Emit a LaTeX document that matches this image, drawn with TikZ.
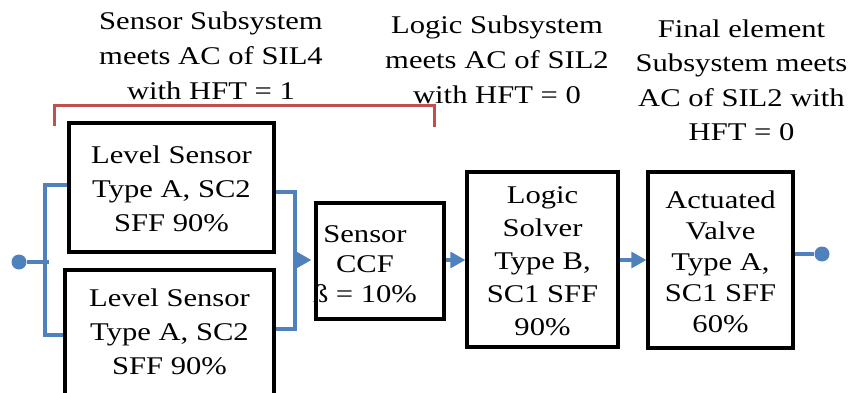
\documentclass[tikz,border=0pt]{standalone}
\usepackage{fontspec}
\setmainfont{Liberation Serif}[FakeStretch=1.2]
\usetikzlibrary{arrows.meta,calc}
\definecolor{wireblue}{HTML}{4F81BD}
\definecolor{bracketred}{HTML}{C0504D}
% taller first line, so that a block's text sits a little low in its box
\newcommand\firstrow{\rule{0pt}{30pt}}

\begin{document}
\begin{tikzpicture}[x=1pt,y=-1pt,
  every node/.style={inner sep=0pt, align=center},
  txt/.style={font=\fontsize{25.5}{#1}\selectfont},
  unitbox/.style={draw=black, line width=3.4pt, fill=white},
  wire/.style={draw=wireblue, line width=3.2pt, line join=miter},
  flow/.style={wire, -{Triangle[length=15pt,width=16pt]}},
  terminal/.style={circle, fill=wireblue, minimum size=15pt},
  groupline/.style={draw=bracketred, line width=3pt}]
\clip (0,0) rectangle (852,393);

% subsystem captions
\node[txt=35] (capsensor) at (211,58)
  {\strut Sensor Subsystem\\\strut meets AC of SIL4\\\strut with HFT = 1};
\node[txt=35] (caplogic) at (497,62)
  {\strut Logic Subsystem\\\strut meets AC of SIL2\\\strut with HFT = 0};
\node[txt=34.5] (capfinal) at (741.5,82)
  {\strut Final element\\\strut Subsystem meets\\\strut AC of SIL2 with\\\strut HFT = 0};

% bracket over the redundant sensor pair
\coordinate (brL) at (54,126);
\coordinate (brTop) at (434,106);
\coordinate (brR) at (434,127);
\draw[groupline] (brL) |- (brTop) -- (brR);

% blocks
\node[unitbox, txt=34, minimum width=205pt, minimum height=129pt] (ls1) at (171.5,187.5)
  {\firstrow Level Sensor\\\strut Type A, SC2\\\strut SFF 90\%};
\node[unitbox, txt=34, minimum width=209pt, minimum height=128pt] (ls2) at (169.5,334)
  {\strut Level Sensor\\\strut Type A, SC2\\\strut SFF 90\%};
\node[unitbox, minimum width=128pt, minimum height=116pt] (ccf) at (380,261) {};
\node[txt=30] (ccftext) at (365,266)
  {\strut Sensor\\\strut CCF\\\strut ß = 10\%};
\node[unitbox, txt=33, minimum width=151pt, minimum height=175pt] (logic) at (542.5,259.5)
  {\firstrow Logic\\\strut Solver\\\strut Type B,\\\strut SC1 SFF\\\strut 90\%};
\node[unitbox, txt=31, minimum width=145pt, minimum height=176pt] (valve) at (720.5,260)
  {\firstrow Actuated\\\strut Valve\\\strut Type A,\\\strut SC1 SFF\\\strut 60\%};

% input split
\node[terminal] (inlet) at (19,262) {};
\coordinate (busL) at (45,262);
\coordinate (tickL) at (49,262);
\draw[wire] (inlet) -- (tickL);
\draw[wire] ($(ls1.west)+(0,-2.5)$) -| (busL) |- ($(ls2.west)+(0,1)$);

% output merge
\coordinate (busR) at (295,260);
\draw[wire] ($(ls1.east)+(0,4.5)$) -| (busR) |- ($(ls2.east)+(0,-5)$);
\draw[flow, shorten >=3pt] (busR) -- (busR -| ccf.west);

% series chain
\draw[flow] (ccf.east |- busR) -- (busR -| logic.west);
\draw[flow] (logic.east |- busR) -- (busR -| valve.west);
\node[terminal] (outlet) at (822,254) {};
\draw[wire] (valve.east |- outlet) -- (outlet);
\end{tikzpicture}
\end{document}
